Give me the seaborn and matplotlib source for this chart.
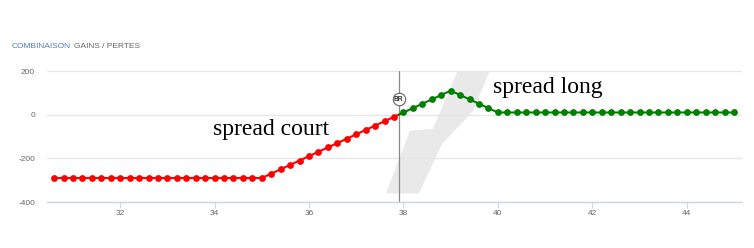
import matplotlib
matplotlib.use("Agg")
import matplotlib.pyplot as plt
import seaborn as sns
import pandas as pd
from matplotlib.patches import Polygon

# ---- data ----
red_x = [30.6, 30.8, 31.0, 31.2, 31.4, 31.6, 31.8, 32.0, 32.2, 32.4, 32.6, 32.8,
         33.0, 33.2, 33.4, 33.6, 33.8, 34.0, 34.2, 34.4, 34.6, 34.8, 35.0,
         35.2, 35.4, 35.6, 35.8, 36.0, 36.2, 36.4, 36.6, 36.8, 37.0, 37.2,
         37.4, 37.6, 37.8]
red_y = [-290, -290, -290, -290, -290, -290, -290, -290, -290, -290, -290, -290,
         -290, -290, -290, -290, -290, -290, -290, -290, -290, -290, -290,
         -270, -250, -230, -210, -190, -170, -150, -130, -110, -90, -70,
         -50, -30, -10]
green_x = [38.0, 38.2, 38.4, 38.6, 38.8, 39.0, 39.2, 39.4, 39.6, 39.8, 40.0,
           40.2, 40.4, 40.6, 40.8, 41.0, 41.2, 41.4, 41.6, 41.8, 42.0, 42.2,
           42.4, 42.6, 42.8, 43.0, 43.2, 43.4, 43.6, 43.8, 44.0, 44.2, 44.4,
           44.6, 44.8, 45.0]
green_y = [10, 30, 50, 70, 90, 110, 90, 70, 50, 30, 10,
           10, 10, 10, 10, 10, 10, 10, 10, 10, 10, 10,
           10, 10, 10, 10, 10, 10, 10, 10, 10, 10, 10,
           10, 10, 10]
breakeven_x = 37.9
breakeven_y = 0
x_ticks = [32, 34, 36, 38, 40, 42, 44]
y_ticks = [-400, -200, 0, 200]
label_court = "spread court"
label_long = "spread long"
title_a = "COMBINAISON"
title_b = "GAINS / PERTES"

W, H = 754, 248
fig = plt.figure(figsize=(W / 100, H / 100), dpi=100)
sns.set_style("white")
plt.rcParams['font.family'] = ['Liberation Sans', 'DejaVu Sans']

def fx(px):
    return px / W

def fy(py):
    return 1 - py / H

ax = fig.add_axes([fx(47), fy(202), fx(742) - fx(47), fy(71) - fy(202)])

# watermark
wm = [(460, 69), (489, 69), (472, 110), (441, 143), (418, 192), (388, 192),
      (411, 132), (434, 130)]
poly = Polygon([(fx(a), fy(b)) for a, b in wm], closed=True, transform=fig.transFigure,
               facecolor='#e9e9e9', edgecolor='#e9e9e9', linewidth=2, joinstyle='round',
               zorder=0.5)
ax.add_patch(poly)

red_df = pd.DataFrame({"x": red_x + [breakeven_x], "y": red_y + [breakeven_y]})
green_df = pd.DataFrame({"x": [breakeven_x] + green_x, "y": [breakeven_y] + green_y})
sns.lineplot(data=red_df, x="x", y="y", ax=ax, color='#ff0000', lw=1.5, zorder=3,
             sort=False, estimator=None)
sns.lineplot(data=green_df, x="x", y="y", ax=ax, color='#008000', lw=1.5, zorder=3,
             sort=False, estimator=None)
sns.scatterplot(x=red_x, y=red_y, ax=ax, color='#ff0000', s=24, linewidth=0, zorder=4)
sns.scatterplot(x=green_x, y=green_y, ax=ax, color='#008000', s=24, linewidth=0, zorder=4)

ax.axvline(breakeven_x, color='#8a8a8a', lw=0.9, zorder=2)
ax.scatter([breakeven_x], [70], s=80, facecolor='white', edgecolor='#666666',
           linewidth=0.8, zorder=5)
ax.text(breakeven_x, 70, "BR", fontsize=4.8, fontweight='bold', ha='center',
        va='center', color='#333333', zorder=6)

ax.text(33.97, -95, label_court, family=['Liberation Serif'], fontsize=17,
        ha='left', va='baseline', color='black', zorder=6)
ax.text(39.9, 100, label_long, family=['Liberation Serif'], fontsize=17,
        ha='left', va='baseline', color='black', zorder=6)

ax.set_xlim(30.45, 45.17)
ax.set_ylim(-400, 200)
ax.set_xticks(x_ticks)
ax.set_yticks(y_ticks)
ax.set_xticklabels([str(t) for t in x_ticks])
ax.set_yticklabels([str(t) for t in y_ticks])
ax.set_xlabel("")
ax.set_ylabel("")
ax.grid(axis='y', color='#e6e6e6', lw=0.9, zorder=0)
ax.grid(axis='x', visible=False)
ax.set_axisbelow(True)
for s in ['top', 'right', 'left']:
    ax.spines[s].set_visible(False)
ax.spines['bottom'].set_color('#ccd6eb')
ax.spines['bottom'].set_linewidth(1)
ax.tick_params(axis='x', length=4, width=0.8, color='#ccd6eb', labelsize=6,
               labelcolor='#666666', pad=2, direction='out', bottom=True)
ax.tick_params(axis='y', length=0, labelsize=6, labelcolor='#666666', pad=8.5)

fig.text(fx(12), fy(47), title_a, fontsize=6, color='#4d7fb8', ha='left', va='center')
fig.text(fx(74), fy(47), title_b, fontsize=6, color='#666666', ha='left', va='center')

fig.savefig("out.png", dpi=100)
